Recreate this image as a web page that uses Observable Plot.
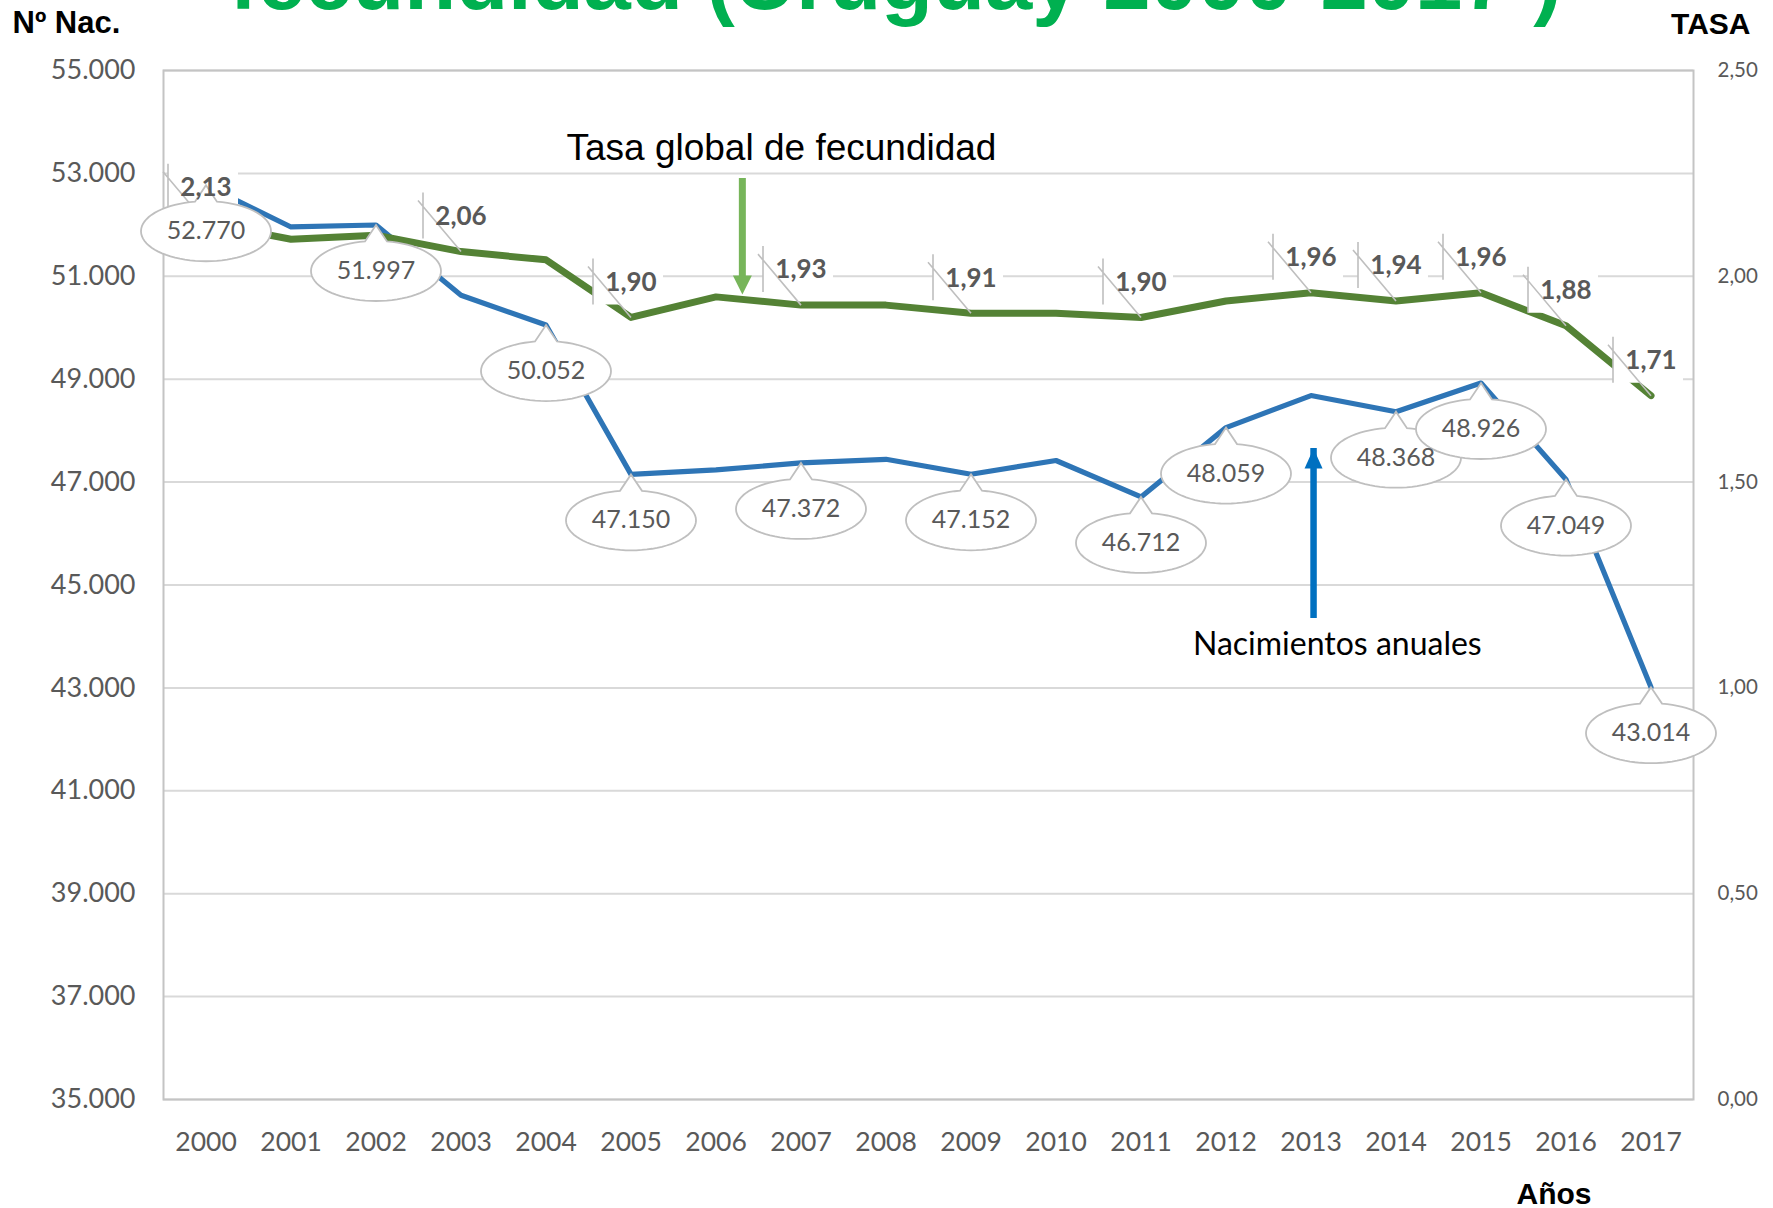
<!DOCTYPE html>
<html>
<head>
<meta charset="utf-8">
<script src="https://cdn.jsdelivr.net/npm/d3@7"></script>
<script src="https://cdn.jsdelivr.net/npm/@observablehq/plot@0.6"></script>
<style>
  html, body { margin: 0; padding: 0; background: #fff; overflow: hidden; }
</style>
</head>
<body>
<div id="chart"></div>
<script>
// ---- Data ----
const years  = [2000, 2001, 2002, 2003, 2004, 2005, 2006, 2007, 2008, 2009, 2010, 2011, 2012, 2013, 2014, 2015, 2016, 2017];
const births = [52770, 51959, 51997, 50631, 50052, 47150, 47236, 47372, 47443, 47152, 47420, 46712, 48059, 48682, 48368, 48926, 47049, 43014];
const tasa   = [2.13, 2.09, 2.10, 2.06, 2.04, 1.90, 1.95, 1.93, 1.93, 1.91, 1.91, 1.90, 1.94, 1.96, 1.94, 1.96, 1.88, 1.71];

const birthLabelYears = [2000, 2002, 2004, 2005, 2007, 2009, 2011, 2012, 2014, 2015, 2016, 2017];
const tasaLabelYears  = [2000, 2003, 2005, 2007, 2009, 2011, 2013, 2014, 2015, 2016, 2017];

const birthTicks = [35000, 37000, 39000, 41000, 43000, 45000, 47000, 49000, 51000, 53000, 55000];
const tasaTicks  = [0, 0.5, 1, 1.5, 2, 2.5];

const titleText      = ["fecundidad (Uruguay 2000-2017 )"];
const leftAxisTitle  = ["Nº Nac."];
const rightAxisTitle = ["TASA"];
const xAxisTitle     = ["Años"];

// annotations placed in data space (year, births-scale value)
const noteTasa   = [{text: "Tasa global de fecundidad", year: 2006.77, value: 53251}];
const noteBirths = [{text: "Nacimientos anuales", year: 2013.31, value: 43630}];
const arrowTasa   = [{year: 2006.31, from: 52901, to: 50646}];
const arrowBirths = [{year: 2013.03, from: 44699, to: 47653}];

// ---- helpers ----
const loc = d3.formatLocale({decimal: ",", thousands: ".", grouping: [3], currency: ["", ""]});
const fmtInt = loc.format(",d");
const fmtTasa = loc.format(".2f");
// secondary axis (0 – 2,50) shares the frame with the primary (35.000 – 55.000)
const toY = t => 35000 + t * 8000;
const fromY = v => (v - 35000) / 8000;

const rows = years.map((year, i) => ({year, births: births[i], tasa: tasa[i]}));
const birthLabels = rows.filter(d => birthLabelYears.includes(d.year));
const tasaLabels = rows.filter(d => tasaLabelYears.includes(d.year));

// callout bubble: ellipse below the point with a pointer to it
const RX = 65, RY = 30, OFF = 46, HB = 11;
const calloutSymbol = {
  draw(ctx) {
    const a = Math.acos(HB / RX);
    const t1 = -a, t2 = Math.PI + a;
    ctx.moveTo(0, 0);
    const N = 72;
    for (let i = 0; i <= N; i++) {
      const t = t1 + (t2 - t1) * i / N;
      ctx.lineTo(RX * Math.cos(t), OFF + RY * Math.sin(t));
    }
    ctx.closePath();
  }
};
const tasaBoxSymbol = { draw(ctx) { ctx.rect(-38, -59, 70, 46); } };
const tasaLeaderSymbol = {
  draw(ctx) {
    ctx.moveTo(-38, -59); ctx.lineTo(-38, -13);
    ctx.moveTo(-43, -51); ctx.lineTo(0, 0);
  }
};
const headDown = { draw(ctx) { ctx.moveTo(0, 0); ctx.lineTo(-9.5, -19); ctx.lineTo(9.5, -19); ctx.closePath(); } };
const headUp   = { draw(ctx) { ctx.moveTo(0, 0); ctx.lineTo(-9, 20); ctx.lineTo(9, 20); ctx.closePath(); } };

const GRAY_TXT = "#595959";
const ARIAL = "'Liberation Sans', Arial, sans-serif";

const chart = Plot.plot({
  width: 1773,
  height: 1208,
  marginLeft: 163,
  marginRight: 80,
  marginTop: 70,
  marginBottom: 109,
  x: {domain: [1999.5, 2017.5], axis: null},
  y: {domain: [35000, 55000], axis: null},
  style: {fontFamily: "Lato, sans-serif", background: "white"},
  marks: [
    Plot.gridY(birthTicks, {stroke: "#d9d9d9", strokeOpacity: 1, strokeWidth: 2}),
    Plot.frame({stroke: "#c4c4c4", strokeWidth: 2}),
    Plot.axisY(birthTicks, {anchor: "left", tickSize: 0, tickPadding: 28, tickFormat: fmtInt,
      fontSize: 27, fill: GRAY_TXT, label: null}),
    Plot.axisY(tasaTicks.map(toY), {anchor: "right", tickSize: 0, tickPadding: 24,
      tickFormat: v => fmtTasa(fromY(v)), fontSize: 20.5, fill: GRAY_TXT, label: null}),
    Plot.axisX(years, {anchor: "bottom", tickSize: 0, tickPadding: 33, tickFormat: d => String(d),
      fontSize: 26.5, fill: GRAY_TXT, label: null}),

    // series
    Plot.line(rows, {x: "year", y: "births", stroke: "#2E75B6", strokeWidth: 5.2, strokeLinejoin: "round"}),
    Plot.line(rows, {x: "year", y: d => toY(d.tasa), stroke: "#548235", strokeWidth: 7, strokeLinejoin: "round"}),

    // TGF label boxes and leaders
    Plot.dot(tasaLabels, {x: "year", y: d => toY(d.tasa), symbol: tasaBoxSymbol, fill: "white", stroke: "none"}),
    Plot.dot(tasaLabels, {x: "year", y: d => toY(d.tasa), symbol: tasaLeaderSymbol, fill: "none", stroke: "#bfbfbf", strokeWidth: 1.6}),

    // births callouts
    Plot.dot(birthLabels, {x: "year", y: "births", symbol: calloutSymbol, fill: "white", stroke: "#bfbfbf", strokeWidth: 1.8}),
    Plot.text(birthLabels, {x: "year", y: "births", text: d => fmtInt(d.births), dy: OFF,
      fontSize: 25, fill: GRAY_TXT}),

    // TGF values (bold)
    Plot.text(tasaLabels, {x: "year", y: d => toY(d.tasa), text: d => fmtTasa(d.tasa), dy: -35,
      fontSize: 26, fontWeight: "bold", fill: GRAY_TXT}),

    // arrows
    Plot.ruleX(arrowTasa, {x: "year", y1: "from", y2: "to", stroke: "#77b55a", strokeWidth: 7, insetBottom: 17}),
    Plot.dot(arrowTasa, {x: "year", y: "to", symbol: headDown, fill: "#77b55a", stroke: "none"}),
    Plot.ruleX(arrowBirths, {x: "year", y1: "from", y2: "to", stroke: "#0070C0", strokeWidth: 6.5, insetTop: 18}),
    Plot.dot(arrowBirths, {x: "year", y: "to", symbol: headUp, fill: "#0070C0", stroke: "none"}),

    // annotation texts
    Plot.text(noteTasa, {x: "year", y: "value", text: "text", lineAnchor: "bottom",
      fontSize: 37, fontFamily: ARIAL, fill: "black"}),
    Plot.text(noteBirths, {x: "year", y: "value", text: "text", lineAnchor: "bottom",
      fontSize: 32, fill: "black"}),

    // titles outside the frame
    Plot.text(titleText, {frameAnchor: "top-left", dx: 732, dy: -62, lineAnchor: "bottom", textAnchor: "middle",
      fontSize: 85, fontWeight: "bold", fontFamily: ARIAL, fill: "#00B050"}),
    Plot.text(leftAxisTitle, {frameAnchor: "top-left", dx: -151, dy: -38, lineAnchor: "bottom", textAnchor: "start",
      fontSize: 31, fontWeight: "bold", fontFamily: ARIAL, fill: "black"}),
    Plot.text(rightAxisTitle, {frameAnchor: "top-right", dx: 57, dy: -37, lineAnchor: "bottom", textAnchor: "end",
      fontSize: 30, fontWeight: "bold", fontFamily: ARIAL, fill: "black"}),
    Plot.text(xAxisTitle, {frameAnchor: "bottom-right", dx: -177, dy: 104, lineAnchor: "bottom", textAnchor: "start",
      fontSize: 30, fontWeight: "bold", fontFamily: ARIAL, fill: "black"})
  ]
});

document.getElementById("chart").appendChild(chart);
</script>
</body>
</html>
